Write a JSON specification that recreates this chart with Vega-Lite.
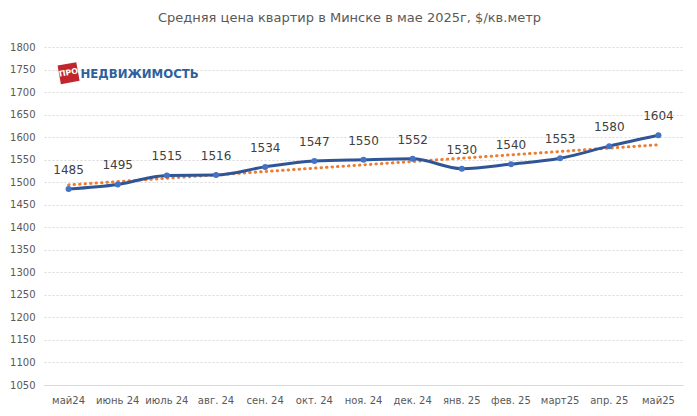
{
  "$schema": "https://vega.github.io/schema/vega-lite/v6.json",
  "autosize": "none",
  "width": 639,
  "height": 338,
  "padding": {"left": 44, "top": 47, "right": 14, "bottom": 31},
  "background": "white",
  "title": {
    "text": "Средняя  цена квартир в Минске в мае 2025г, $/кв.метр",
    "font": "DejaVu Sans",
    "fontSize": 13,
    "fontWeight": "normal",
    "color": "#595959",
    "offset": 17,
    "dx": -14
  },
  "datasets": {
    "prices": [
      {"month": "май24", "price": 1485},
      {"month": "июнь 24", "price": 1495},
      {"month": "июль 24", "price": 1515},
      {"month": "авг. 24", "price": 1516},
      {"month": "сен. 24", "price": 1534},
      {"month": "окт. 24", "price": 1547},
      {"month": "ноя. 24", "price": 1550},
      {"month": "дек. 24", "price": 1552},
      {"month": "янв. 25", "price": 1530},
      {"month": "фев. 25", "price": 1540},
      {"month": "март25", "price": 1553},
      {"month": "апр. 25", "price": 1580},
      {"month": "май25", "price": 1604}
    ],
    "trend": [
      {"month": "май24", "price": 1494},
      {"month": "май25", "price": 1583}
    ],
    "logo": [
      {"month": "май24", "price": 1742, "pro": "ПРО", "name": "НЕДВИЖИМОСТЬ"}
    ]
  },
  "encoding": {
    "x": {
      "field": "month",
      "type": "nominal",
      "sort": ["май24", "июнь 24", "июль 24", "авг. 24", "сен. 24", "окт. 24", "ноя. 24", "дек. 24", "янв. 25", "фев. 25", "март25", "апр. 25", "май25"],
      "scale": {"type": "band", "paddingInner": 0, "paddingOuter": 0},
      "axis": {
        "title": null,
        "labelAngle": 0,
        "ticks": false,
        "domain": true,
        "domainColor": "#d9d9d9",
        "labelFont": "DejaVu Sans",
        "labelFontSize": 10,
        "labelColor": "#595959",
        "labelPadding": 10
      }
    },
    "y": {
      "field": "price",
      "type": "quantitative",
      "scale": {"domain": [1050, 1800], "nice": false, "zero": false},
      "axis": {
        "title": null,
        "values": [1050, 1100, 1150, 1200, 1250, 1300, 1350, 1400, 1450, 1500, 1550, 1600, 1650, 1700, 1750, 1800],
        "format": "d",
        "ticks": false,
        "domain": false,
        "gridColor": "#d9d9d9",
        "gridDash": [2, 2],
        "labelFont": "DejaVu Sans",
        "labelFontSize": 10,
        "labelColor": "#595959",
        "labelPadding": 9
      }
    }
  },
  "layer": [
    {
      "data": {"name": "trend"},
      "mark": {"type": "line", "color": "#ed7d31", "strokeWidth": 3, "strokeDash": [0.5, 5], "strokeCap": "round"}
    },
    {
      "data": {"name": "prices"},
      "mark": {"type": "line", "color": "#2f5597", "strokeWidth": 3, "interpolate": "monotone"}
    },
    {
      "data": {"name": "prices"},
      "mark": {"type": "point", "filled": true, "size": 36, "color": "#4472c4", "opacity": 1}
    },
    {
      "data": {"name": "prices"},
      "mark": {"type": "text", "dy": -19, "font": "DejaVu Sans", "fontSize": 12, "color": "#404040"},
      "encoding": {"text": {"field": "price", "type": "quantitative", "format": "d"}}
    },
    {
      "data": {"name": "logo"},
      "mark": {"type": "point", "shape": "square", "filled": true, "size": 360, "color": "#c0272d", "angle": -10, "opacity": 1}
    },
    {
      "data": {"name": "logo"},
      "mark": {"type": "text", "font": "DejaVu Sans", "fontSize": 8, "fontWeight": "bold", "color": "white", "angle": -10},
      "encoding": {"text": {"field": "pro"}}
    },
    {
      "data": {"name": "logo"},
      "mark": {"type": "text", "align": "left", "dx": 12, "dy": 1, "font": "DejaVu Sans Condensed, Liberation Sans Narrow, sans-serif", "fontSize": 13, "fontWeight": "bold", "color": "#2e5f9e"},
      "encoding": {"text": {"field": "name"}}
    }
  ],
  "config": {"view": {"stroke": null}}
}
